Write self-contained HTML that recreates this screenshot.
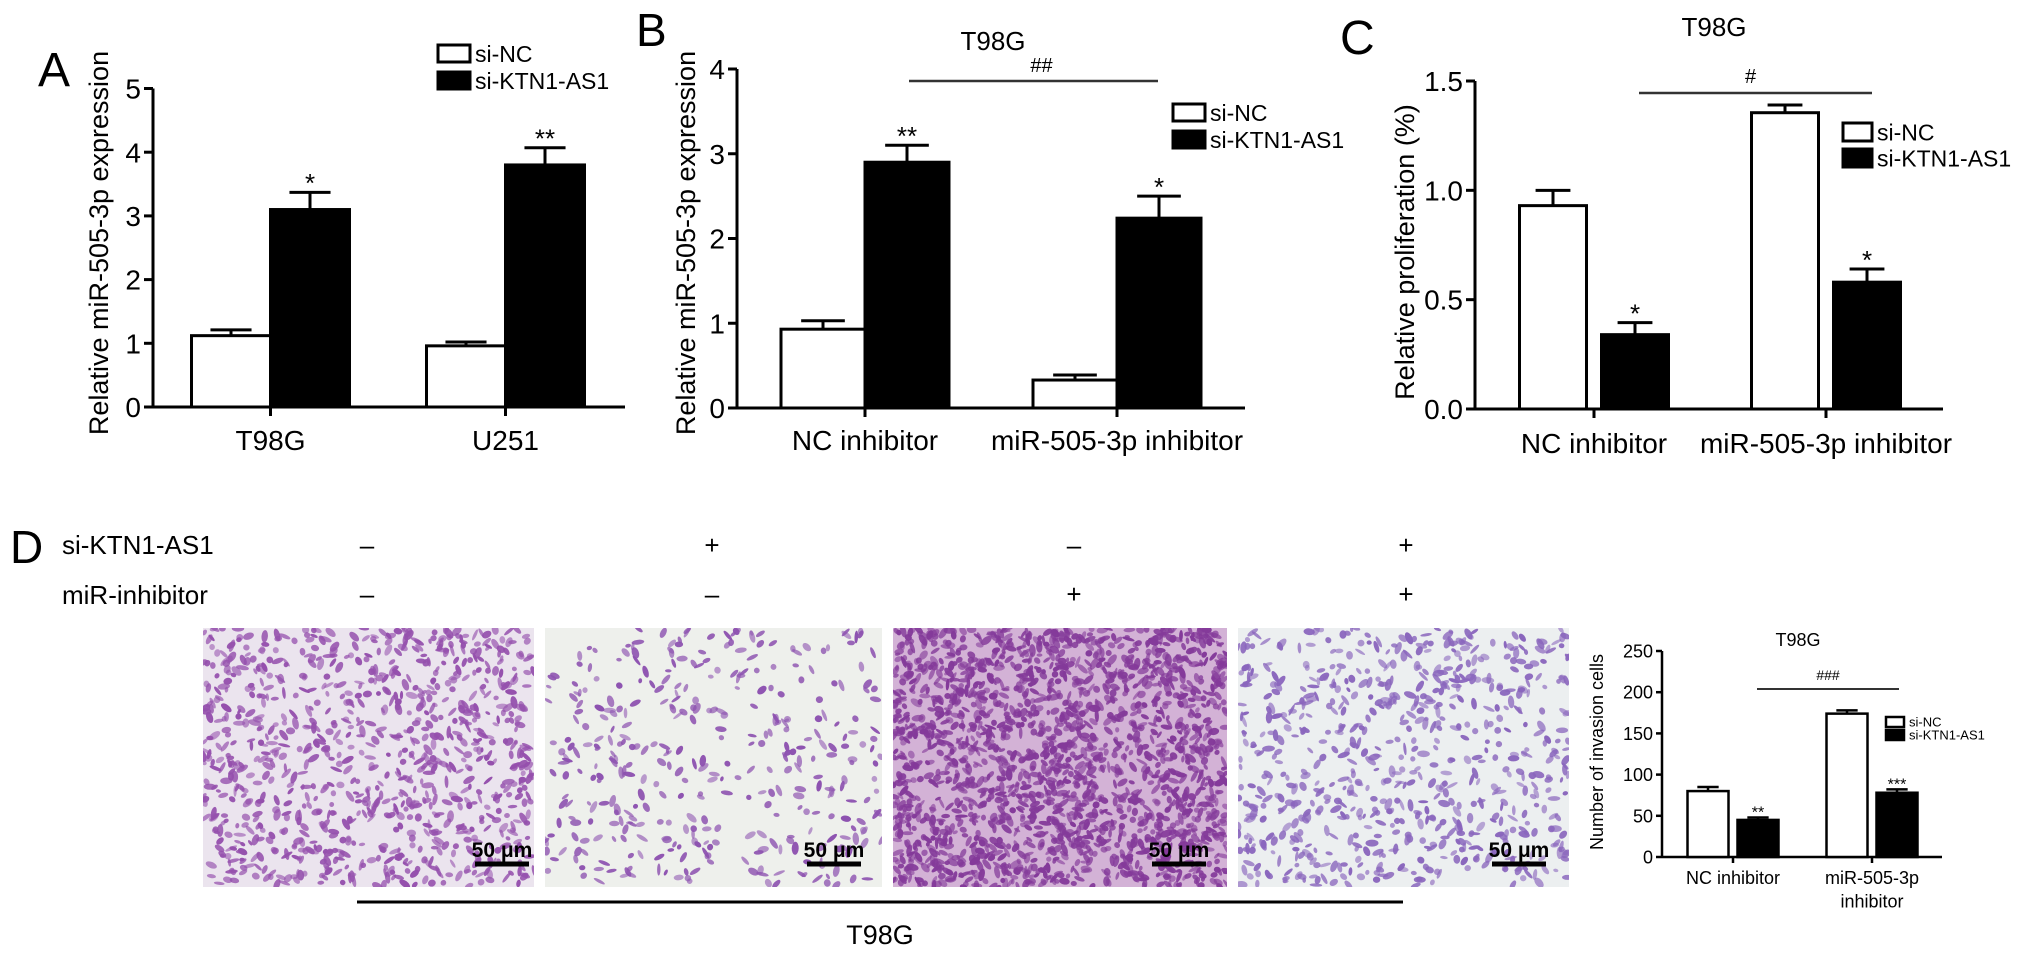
<!DOCTYPE html>
<html><head><meta charset="utf-8">
<style>
html,body{margin:0;padding:0;background:#fff;}
svg{display:block;font-family:"Liberation Sans",Arial,sans-serif;}
</style></head>
<body>
<svg id="fig" width="2032" height="957" viewBox="0 0 2032 957" xmlns="http://www.w3.org/2000/svg">
  <rect x="0" y="0" width="2032" height="957" fill="#fff"/>
  <text x="38" y="86" font-size="48">A</text>
  <text x="636" y="46" font-size="46">B</text>
  <text x="1340" y="54" font-size="48">C</text>
  <text x="10" y="563" font-size="46">D</text>

  <text x="62" y="554" font-size="26">si-KTN1-AS1</text>
  <text x="62" y="604" font-size="26">miR-inhibitor</text>
  <g id="signs" font-size="26" text-anchor="middle"></g>

  <g id="images"></g>

  <line x1="357" y1="902" x2="1403" y2="902" stroke="#000" stroke-width="3"/>
  <text x="880" y="944" font-size="27" text-anchor="middle">T98G</text>

  <g id="chartA"></g>
  <g id="chartB"></g>
  <g id="chartC"></g>
  <g id="chartD"></g>
</svg>
<script>
// ---------- Chart data ----------
const catsA = ['T98G', 'U251'];
const ncA = [1.12, 0.96];
const ncErrA = [0.09, 0.06];
const kdA = [3.1, 3.8];
const kdErrA = [0.27, 0.27];
const starsA = ['*', '**'];
const ticksA = ['0', '1', '2', '3', '4', '5'];

const catsB = ['NC inhibitor', 'miR-505-3p inhibitor'];
const ncB = [0.93, 0.33];
const ncErrB = [0.1, 0.06];
const kdB = [2.9, 2.24];
const kdErrB = [0.2, 0.26];
const starsB = ['**', '*'];
const ticksB = ['0', '1', '2', '3', '4'];

const catsC = ['NC inhibitor', 'miR-505-3p inhibitor'];
const ncC = [0.93, 1.355];
const ncErrC = [0.07, 0.035];
const kdC = [0.34, 0.58];
const kdErrC = [0.055, 0.06];
const starsC = ['*', '*'];
const ticksC = ['0.0', '0.5', '1.0', '1.5'];

const catsD = ['NC inhibitor', 'miR-505-3p|inhibitor'];
const ncD = [80, 174];
const ncErrD = [5, 4];
const kdD = [45, 78];
const kdErrD = [3, 4];
const starsD = ['**', '***'];
const ticksD = ['0', '50', '100', '150', '200', '250'];

const NS = 'http://www.w3.org/2000/svg';
function mk(parent, tag, attrs, txt) {
  const e = document.createElementNS(NS, tag);
  for (const k in attrs) e.setAttribute(k, attrs[k]);
  if (txt !== undefined) e.textContent = txt;
  parent.appendChild(e);
  return e;
}

function drawChart(g, L, cats, nc, ncErr, kd, kdErr, stars, ticks) {
  const vmax = parseFloat(ticks[ticks.length - 1]);
  const y = v => L.y0 - (v / vmax) * (L.y0 - L.yTop);
  const step = (L.xr1 - L.xr0) / cats.length;
  const cx = i => L.xr0 + step * (i + 0.5);
  const sw = L.sw;
  const ya = mk(g, 'line', {x1: L.ax, y1: L.yTop, x2: L.ax, y2: L.y0, stroke: '#000', 'stroke-width': sw});
  
  
  const xa = mk(g, 'line', {x1: L.ax, y1: L.y0, x2: L.axEnd, y2: L.y0, stroke: '#000', 'stroke-width': sw});
  
  
  ticks.forEach(t => {
    const ty = y(parseFloat(t));
    const tk = mk(g, 'line', {x1: L.ax - L.tl, y1: ty, x2: L.ax, y2: ty, stroke: '#000', 'stroke-width': sw});
    
    
    const tl = mk(g, 'text', {x: L.ax - L.tl - 3, y: ty + L.tf * 0.36, 'font-size': L.tf, 'text-anchor': 'end'}, t);
    
    
  });
  cats.forEach((c, i) => {
    const c0 = cx(i);
    const tk = mk(g, 'line', {x1: c0, y1: L.y0, x2: c0, y2: L.y0 + L.tl, stroke: '#000', 'stroke-width': sw});
    
    
    const parts = c.split('|');
    parts.forEach((p, k) => {
      const lab = mk(g, 'text', {x: c0, y: L.labY + k * L.lf * 1.3, 'font-size': L.lf, 'text-anchor': 'middle'}, p);
      
      
    });
    const series = [[nc[i], ncErr[i], '#fff', c0 - L.gap / 2 - L.bw], [kd[i], kdErr[i], '#000', c0 + L.gap / 2]];
    series.forEach((s, j) => {
      const top = y(s[0]);
      const et = y(s[0] + s[1]);
      const bx = s[3];
      const bm = bx + L.bw / 2;
      const el = mk(g, 'line', {x1: bm, y1: et, x2: bm, y2: top, stroke: '#000', 'stroke-width': sw});
      
      
      const cap = mk(g, 'line', {x1: bm - L.bw * 0.26, y1: et, x2: bm + L.bw * 0.26, y2: et, stroke: '#000', 'stroke-width': sw});
      
      
      const r = mk(g, 'rect', {x: bx, y: top, width: L.bw, height: L.y0 - top, fill: s[2], stroke: '#000', 'stroke-width': sw});
      
      
      if (j === 1) {
        const st = mk(g, 'text', {x: bm, y: et - L.sf * 0.58 + L.sf * 0.57, 'font-size': L.sf, 'text-anchor': 'middle'}, stars[i]);
        
        
      }
    });
  });
  const yl = mk(g, 'text', {x: 0, y: 0, 'font-size': L.yf, 'text-anchor': 'middle', transform: `translate(${L.ylx},${L.yly}) rotate(-90)`}, L.ylabel);
  
  
  const lg = mk(g, 'g', {});
  
  
  [['si-NC', '#fff'], ['si-KTN1-AS1', '#000']].forEach((e, k) => {
    const yy = L.legY + k * L.legDy;
    const b = mk(lg, 'rect', {x: L.legX, y: yy, width: L.legW, height: L.legH, fill: e[1], stroke: '#000', 'stroke-width': sw});
    
    
    const t = mk(lg, 'text', {x: L.legX + L.legW + 5, y: yy + L.legH / 2 + L.legF * 0.36, 'font-size': L.legF}, e[0]);
    
    
  });
  if (L.title) {
    const tt = mk(g, 'text', {x: L.titleX, y: L.titleY, 'font-size': L.titleF, 'text-anchor': 'middle'}, L.title);
    
    
  }
  if (L.hash) {
    const hl = mk(g, 'line', {x1: L.hx0, y1: L.hy, x2: L.hx1, y2: L.hy, stroke: '#333', 'stroke-width': sw * 0.8});
    
    
    const ht = mk(g, 'text', {x: (L.hx0 + L.hx1) / 2 + L.hOff, y: L.hy - L.hGap, 'font-size': L.hf, 'text-anchor': 'middle'}, L.hash);
    
    
  }
}

drawChart(document.getElementById('chartA'), {
  ax: 153, axEnd: 625, y0: 407, yTop: 88.5, xr0: 153, xr1: 623, bw: 79, gap: 0, sw: 3, tl: 9, tf: 28,
  labY: 450, lf: 28, sf: 26, yf: 27, ylabel: 'Relative miR-505-3p expression', ylx: 108, yly: 243,
  legX: 438, legY: 45, legDy: 27, legW: 32, legH: 17, legF: 23
}, catsA, ncA, ncErrA, kdA, kdErrA, starsA, ticksA);

drawChart(document.getElementById('chartB'), {
  ax: 737, axEnd: 1245, y0: 408, yTop: 69, xr0: 739, xr1: 1243, bw: 84, gap: 0, sw: 3, tl: 9, tf: 28,
  labY: 450, lf: 28, sf: 26, yf: 27, ylabel: 'Relative miR-505-3p expression', ylx: 695, yly: 243,
  legX: 1173, legY: 104, legDy: 27, legW: 32, legH: 17, legF: 23,
  title: 'T98G', titleX: 993, titleY: 50, titleF: 26,
  hash: '##', hx0: 909, hx1: 1158, hy: 81, hGap: 9, hOff: 8, hf: 20
}, catsB, ncB, ncErrB, kdB, kdErrB, starsB, ticksB);

drawChart(document.getElementById('chartC'), {
  ax: 1475, axEnd: 1943, y0: 409, yTop: 81, xr0: 1478, xr1: 1942, bw: 67, gap: 15, sw: 3, tl: 9, tf: 28,
  labY: 453, lf: 28, sf: 26, yf: 27, ylabel: 'Relative proliferation (%)', ylx: 1414, yly: 252,
  legX: 1843, legY: 123, legDy: 26, legW: 29, legH: 18, legF: 23,
  title: 'T98G', titleX: 1714, titleY: 36, titleF: 26,
  hash: '#', hx0: 1639, hx1: 1872, hy: 93, hGap: 10, hOff: -5, hf: 20
}, catsC, ncC, ncErrC, kdC, kdErrC, starsC, ticksC);

drawChart(document.getElementById('chartD'), {
  ax: 1662, axEnd: 1942, y0: 857, yTop: 651, xr0: 1663.5, xr1: 1941.5, bw: 41, gap: 9, sw: 2.5, tl: 6, tf: 18,
  labY: 884, lf: 18, sf: 16, yf: 18, ylabel: 'Number of invasion cells', ylx: 1603, yly: 752,
  legX: 1886, legY: 717, legDy: 13, legW: 18, legH: 10, legF: 13,
  title: 'T98G', titleX: 1798, titleY: 646, titleF: 18,
  hash: '###', hx0: 1757, hx1: 1899, hy: 689, hGap: 9, hOff: 0, hf: 14
}, catsD, ncD, ncErrD, kdD, kdErrD, starsD, ticksD);

// ---------- condition signs ----------
const signCols = [367, 712, 1074, 1406];
const signRow1 = ['–', '+', '–', '+'];
const signRow2 = ['–', '–', '+', '+'];
const sg = document.getElementById('signs');
signCols.forEach((x, i) => {
  const a = mk(sg, 'text', {x: x, y: 554}, signRow1[i]);
  
  
  const b = mk(sg, 'text', {x: x, y: 603}, signRow2[i]);
  
  
});

// ---------- micrograph textures (decorative) ----------
const imgs = [
  {x: 203, w: 331, bg: '#ebe4ee', cell: '#9550ad', n: 950, bar: 5},
  {x: 545, w: 337, bg: '#eef0ec', cell: '#8d52b0', n: 380, bar: 21},
  {x: 893, w: 334, bg: '#d3b2d6', cell: '#843a9a', n: 1900, bar: 21},
  {x: 1238, w: 331, bg: '#eceff0', cell: '#8a66bd', n: 700, bar: 23}
];
const ig = document.getElementById('images');
let seed = 12345;
function rnd() { seed = (seed * 1103515245 + 12345) % 2147483648; return seed / 2147483648; }
imgs.forEach((im, k) => {
  const g = mk(ig, 'g', {});
  
  
  const cp = mk(g, 'clipPath', {id: 'cp' + k});
  mk(cp, 'rect', {x: im.x, y: 628, width: im.w, height: 259});
  mk(g, 'rect', {x: im.x, y: 628, width: im.w, height: 259, fill: im.bg});
  const cg = mk(g, 'g', {'clip-path': `url(#cp${k})`, fill: im.cell});
  for (let i = 0; i < im.n; i++) {
    const cx = im.x + rnd() * im.w, cy = 628 + rnd() * 259;
    const rx = 2.5 + rnd() * 4, ry = 1.5 + rnd() * 2;
    const op = 0.55 + rnd() * 0.45;
    mk(cg, 'ellipse', {cx: cx.toFixed(1), cy: cy.toFixed(1), rx: rx.toFixed(1), ry: ry.toFixed(1), opacity: op.toFixed(2),
      transform: `rotate(${(rnd() * 180).toFixed(0)} ${cx.toFixed(1)} ${cy.toFixed(1)})`});
  }
  const bx1 = im.x + im.w - im.bar, bx0 = bx1 - 54;
  const sb = mk(g, 'line', {x1: bx0, y1: 864, x2: bx1, y2: 864, stroke: '#000', 'stroke-width': 5});
  
  
  const st = mk(g, 'text', {x: (bx0 + bx1) / 2, y: 857, 'font-size': 21, 'font-weight': 'bold', 'text-anchor': 'middle'}, '50 μm');
  
  
});
</script>
</body></html>
